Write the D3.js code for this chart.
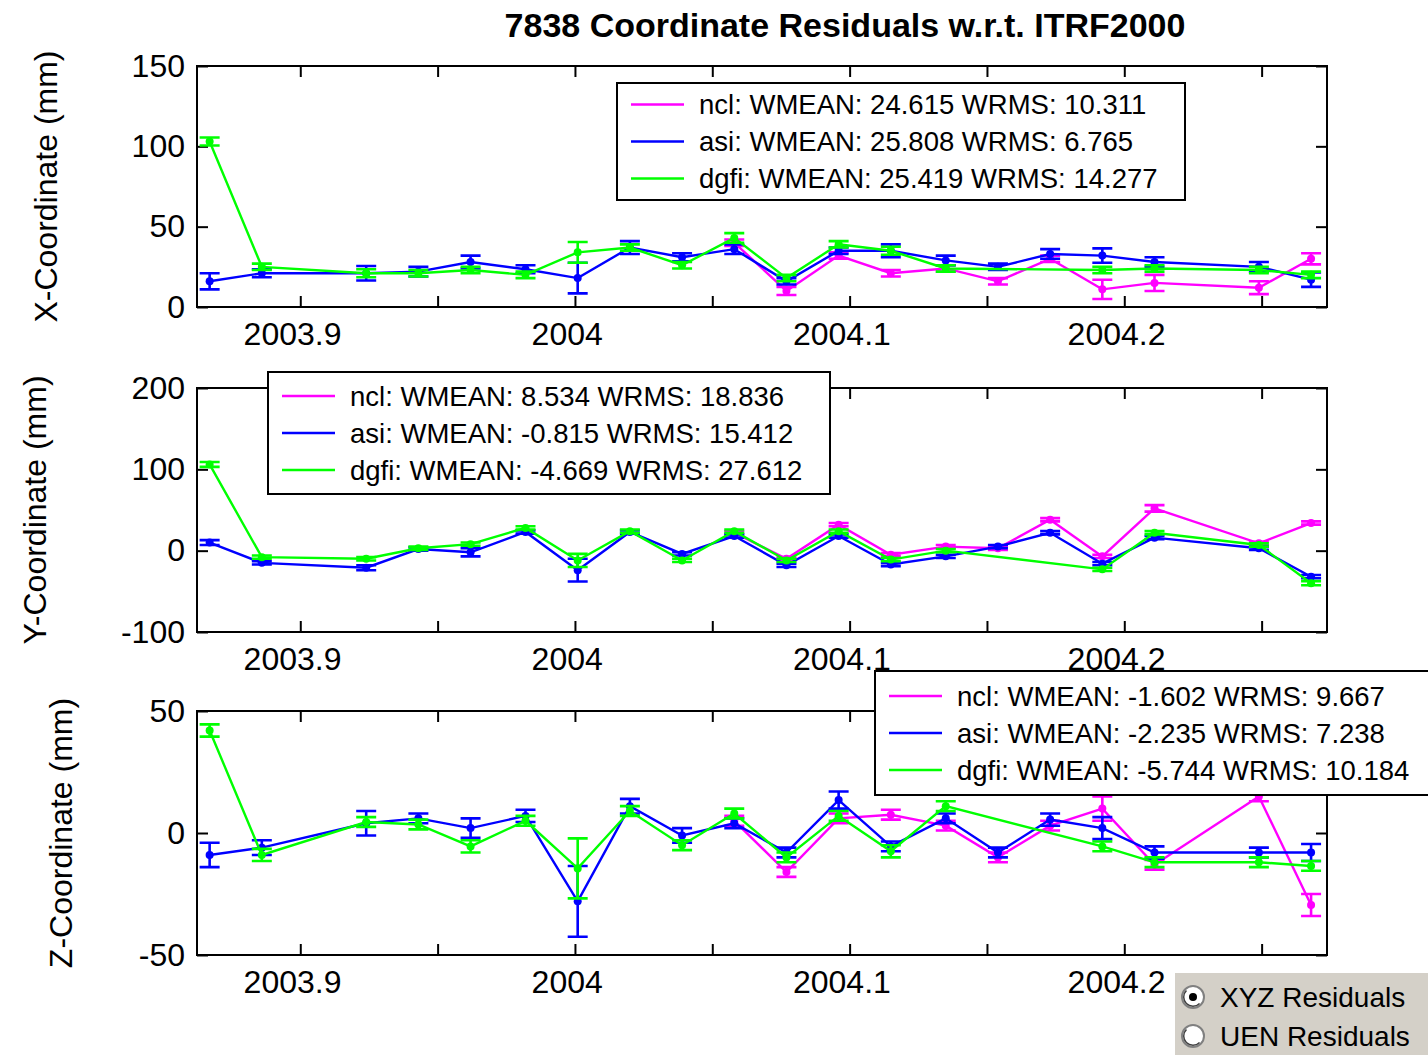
<!DOCTYPE html>
<html>
<head>
<meta charset="utf-8">
<script src="https://cdn.jsdelivr.net/npm/d3@7"></script>
<style>
  body { margin: 0; background: #fff; }
  svg text { font-family: "Liberation Sans", Arial, Helvetica, sans-serif; fill: #000; }
</style>
</head>
<body>
<svg id="fig" width="1428" height="1055"></svg>
<script>
// Weekly solution epochs (decimal years)
const epochs = [2003.870, 2003.889, 2003.927, 2003.946, 2003.965, 2003.985, 2004.004, 2004.023,
                2004.042, 2004.061, 2004.080, 2004.099, 2004.118, 2004.138, 2004.157, 2004.176,
                2004.195, 2004.214, 2004.252, 2004.271];

// Axis ticks
const xTickMarks = [2003.903, 2003.953, 2004.003, 2004.053, 2004.103, 2004.153, 2004.203, 2004.253];
const xTickLabels = [2003.9, 2004.0, 2004.1, 2004.2];
const xYTicks = [0, 50, 100, 150];
const yYTicks = [-100, 0, 100, 200];
const zYTicks = [-50, 0, 50];

const centers = ["ncl", "asi", "dgfi"];
const centerColors = ["#ff00ff", "#0000ff", "#00ff00"];

// X-coordinate residuals (mm) and 1-sigma errors
const xNcl     = [null, null, null, null, null, null, null, null, null, 40, 10, 32, 21, 24, 16, 30, 11, 15, 12, 30];
const xNclErr  = [null, null, null, null, null, null, null, null, null, 2, 2.5, 2, 2, 2, 2, 2, 6, 5, 4, 3.5];
const xAsi     = [16, 21, 21, 22, 28, 23.5, 18, 37, 31, 36, 16, 35, 35, 29, 25, 33, 32, 28, 25, 17];
const xAsiErr  = [5, 2.5, 4.5, 3, 4, 2.5, 9.5, 4, 2.5, 3, 2, 2, 4, 3, 2, 3, 4.5, 3, 3, 4.5];
const xDgfi    = [103, 25, 21, 21, 23, 20, 34, 37, 26, 43, 18, 39, 35, 24, null, null, 23, 24, 23, 20];
const xDgfiErr = [2.5, 2, 2.5, 2, 2, 2, 6.5, 2, 2, 3, 2, 2, 2.5, 2, null, null, 2, 2, 2, 2];

// Y-coordinate residuals (mm)
const yNcl     = [null, null, null, null, null, null, null, null, null, 22, -10, 32, -5, 5, 3, 38, -7, 52, 9, 34];
const yNclErr  = [null, null, null, null, null, null, null, null, null, 2, 2, 2, 2, 2, 2, 2, 2, 4, 2, 2];
const yAsi     = [10, -15, -21, 2, -2, 23, -24, 23, -4, 18, -18, 18, -17, -7, 5, 22, -16, 16, 3, -32];
const yAsiErr  = [3, 2, 3, 2, 5, 2, 14, 2, 2, 2, 2, 2, 2, 2, 2, 2, 2, 2, 2, 2];
const yDgfi    = [106, -8, -10, 3, 8, 28, -12, 24, -12, 24, -12, 24, -11, 0, null, null, -23, 22, 7, -40];
const yDgfiErr = [3, 2, 2, 2, 2, 2, 8, 2, 2, 2, 2, 2, 2, 2, null, null, 2, 2, 2, 2.5];

// Z-coordinate residuals (mm)
const zNcl     = [null, null, null, null, null, null, null, null, null, 5, -16, 6, 7.5, 3, -10, 3, 10, -13, 15, -29.5];
const zNclErr  = [null, null, null, null, null, null, null, null, null, 2, 2, 2, 2, 2, 2, 2, 5, 2, 2, 4.5];
const zAsi     = [-9, -6, 4, 6, 2, 7, -28, 11, -1, 4, -8, 13.5, -5.5, 6, -8, 5.5, 2, -8, -8, -8];
const zAsiErr  = [5, 3, 5, 2, 4, 2.5, 14.5, 3, 3, 2, 2, 3.5, 2, 2, 2, 2.5, 4.5, 2.5, 2, 3.5];
const zDgfi    = [42, -9, 4.5, 3.5, -5.5, 5, -14.5, 9, -5, 8, -10, 7, -7.5, 11, null, null, -5.5, -12, -12, -13.5];
const zDgfiErr = [2.5, 2.5, 2, 2, 2.5, 2, 12.3, 2, 2, 2, 2, 2, 2.5, 2, null, null, 2, 2, 2, 2];

// Weighted statistics per analysis center
const xWmean = [24.615, 25.808, 25.419], xWrms = [10.311, 6.765, 14.277];
const yWmean = [8.534, -0.815, -4.669],  yWrms = [18.836, 15.412, 27.612];
const zWmean = [-1.602, -2.235, -5.744], zWrms = [9.667, 7.238, 10.184];

const titleText = "7838 Coordinate Residuals w.r.t. ITRF2000";
const radioLabels = ["XYZ Residuals", "UEN Residuals"];

const svg = d3.select("#fig");
svg.append("rect").attr("width", 1428).attr("height", 1055).attr("fill", "#fff");

const x = d3.scaleLinear().domain([2003.8654, 2004.2768]).range([197, 1327]);

const panels = [
  { id: "px", label: "X-Coordinate (mm)", labelX: 46, top: 66, bottom: 307, domain: [0, 150], ticks: xYTicks,
    vals: [xNcl, xAsi, xDgfi], errs: [xNclErr, xAsiErr, xDgfiErr], wmean: xWmean, wrms: xWrms,
    legend: { x: 617, y: 83, w: 568, h: 117 } },
  { id: "py", label: "Y-Coordinate (mm)", labelX: 35, top: 388, bottom: 632, domain: [-100, 200], ticks: yYTicks,
    vals: [yNcl, yAsi, yDgfi], errs: [yNclErr, yAsiErr, yDgfiErr], wmean: yWmean, wrms: yWrms,
    legend: { x: 268, y: 372, w: 562, h: 122 } },
  { id: "pz", label: "Z-Coordinate (mm)", labelX: 61, top: 711, bottom: 955, domain: [-50, 50], ticks: zYTicks,
    vals: [zNcl, zAsi, zDgfi], errs: [zNclErr, zAsiErr, zDgfiErr], wmean: zWmean, wrms: zWrms,
    legend: { x: 875, y: 671, w: 562, h: 124 } }
];

const fmtYear = d => String(+d.toFixed(1));
const fmtVal = d => String(d);   // plain hyphen-minus for negatives
const capHalf = 10;

panels.forEach(p => {
  const y = d3.scaleLinear().domain(p.domain).range([p.bottom, p.top]);
  const g = svg.append("g");
  const x0 = x.range()[0], x1 = x.range()[1];

  g.append("clipPath").attr("id", "clip-" + p.id)
    .append("rect").attr("x", x0).attr("y", p.top).attr("width", x1 - x0).attr("height", p.bottom - p.top);

  // tick marks on all four sides, pointing inward
  g.append("g").attr("transform", `translate(0,${p.bottom})`)
    .call(d3.axisBottom(x).tickValues(xTickMarks).tickSizeInner(-11).tickSizeOuter(0).tickFormat(""))
    .call(a => a.select(".domain").remove());
  g.append("g").attr("transform", `translate(0,${p.top})`)
    .call(d3.axisTop(x).tickValues(xTickMarks).tickSizeInner(-11).tickSizeOuter(0).tickFormat(""))
    .call(a => a.select(".domain").remove());
  g.append("g").attr("transform", `translate(${x1},0)`)
    .call(d3.axisRight(y).tickValues(p.ticks).tickSizeInner(-11).tickSizeOuter(0).tickFormat(""))
    .call(a => a.select(".domain").remove());
  const yl = g.append("g").attr("transform", `translate(${x0},0)`)
    .call(d3.axisLeft(y).tickValues(p.ticks).tickSizeInner(-11).tickSizeOuter(0).tickPadding(12).tickFormat(fmtVal));
  yl.select(".domain").remove();
  yl.selectAll("text").attr("font-size", 32).attr("font-family", null);

  // year labels
  const xl = g.append("g").attr("transform", `translate(0,${p.bottom})`)
    .call(d3.axisBottom(x).tickValues(xTickLabels).tickSize(0).tickPadding(15).tickFormat(fmtYear));
  xl.select(".domain").remove();
  xl.selectAll("text").attr("font-size", 32).attr("font-family", null);

  g.selectAll(".tick line").attr("stroke", "#000").attr("stroke-width", 2);

  // data: ncl first, then asi, then dgfi on top
  const dg = g.append("g").attr("clip-path", `url(#clip-${p.id})`);
  p.vals.forEach((vals, si) => {
    const color = centerColors[si];
    const pts = epochs.map((t, i) => ({ t, v: vals[i], e: p.errs[si][i] })).filter(d => d.v != null);
    const line = d3.line().x(d => x(d.t)).y(d => y(d.v));
    dg.append("path").datum(pts).attr("d", line)
      .attr("fill", "none").attr("stroke", color).attr("stroke-width", 2.4);
    const eb = dg.append("g").attr("stroke", color).attr("stroke-width", 2.6).attr("fill", "none");
    eb.selectAll("path.eb").data(pts).join("path").attr("class", "eb")
      .attr("d", d => {
        const cx = x(d.t), yt = y(d.v + d.e), yb = y(d.v - d.e);
        return `M${cx},${yt}V${yb}M${cx - capHalf},${yt}H${cx + capHalf}M${cx - capHalf},${yb}H${cx + capHalf}`;
      });
    dg.append("g").selectAll("circle").data(pts).join("circle")
      .attr("cx", d => x(d.t)).attr("cy", d => y(d.v)).attr("r", 4).attr("fill", color);
  });

  // axes box
  g.append("rect").attr("x", x0).attr("y", p.top).attr("width", x1 - x0).attr("height", p.bottom - p.top)
    .attr("fill", "none").attr("stroke", "#000").attr("stroke-width", 2);

  // y label
  g.append("text").attr("transform", `translate(${p.labelX},${(p.top + p.bottom) / 2}) rotate(-90)`)
    .attr("text-anchor", "middle").attr("dy", "0.35em").attr("font-size", 32).text(p.label);

  // legend
  const L = p.legend;
  const lg = g.append("g").attr("transform", `translate(${L.x},${L.y})`);
  lg.append("rect").attr("width", L.w).attr("height", L.h).attr("fill", "#fff")
    .attr("stroke", "#000").attr("stroke-width", 2);
  const rowY0 = L.h / 2 - 37;
  centers.forEach((c, i) => {
    const ry = rowY0 + i * 37;
    lg.append("line").attr("x1", 14).attr("x2", 67).attr("y1", ry).attr("y2", ry)
      .attr("stroke", centerColors[i]).attr("stroke-width", 2.4);
    lg.append("text").attr("x", 82).attr("y", ry).attr("dy", "0.36em").attr("font-size", 27.5)
      .text(`${c}: WMEAN: ${p.wmean[i].toFixed(3)} WRMS: ${p.wrms[i].toFixed(3)}`);
  });
});

// title
svg.append("text").attr("x", 845).attr("y", 37).attr("text-anchor", "middle")
  .attr("font-size", 34).attr("font-weight", "bold").text(titleText);

// residual type selector
const rg = svg.append("g");
rg.append("rect").attr("x", 1175).attr("y", 973).attr("width", 260).attr("height", 90).attr("fill", "#d4d0c8");
radioLabels.forEach((lbl, i) => {
  const cy = 997 + i * 39;
  rg.append("circle").attr("cx", 1193).attr("cy", cy).attr("r", 11).attr("fill", "#fff")
    .attr("stroke", "#808080").attr("stroke-width", 2);
  rg.append("path").attr("d", d3.arc()({ innerRadius: 8.5, outerRadius: 10, startAngle: -Math.PI * 0.75 - Math.PI / 2, endAngle: Math.PI * 0.25 - Math.PI / 2 }))
    .attr("transform", `translate(1193,${cy})`).attr("fill", "#404040");
  if (i === 0) rg.append("circle").attr("cx", 1193).attr("cy", cy).attr("r", 4).attr("fill", "#000");
  rg.append("text").attr("x", 1220).attr("y", cy).attr("dy", "0.36em").attr("font-size", 28).text(lbl);
});
</script>
</body>
</html>
